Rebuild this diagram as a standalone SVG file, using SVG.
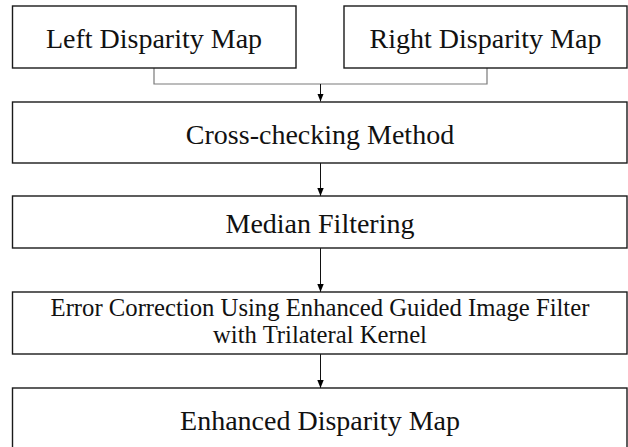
<svg xmlns="http://www.w3.org/2000/svg" width="628" height="447" viewBox="0 0 628 447">
<defs>
<marker id="ah" viewBox="0 0 8 8" refX="8" refY="4" markerWidth="8" markerHeight="8" markerUnits="userSpaceOnUse" orient="auto">
<path d="M0,0.8 L8,4 L0,7.2 Z" fill="#000"/>
</marker>
<style>
.box{fill:#fff;stroke:#1a1a1a;stroke-width:1.4}
.t{font-family:"Liberation Serif","Times New Roman",serif;font-size:28px;fill:#111;text-anchor:middle}
.s{font-size:24.7px}
.gray{fill:none;stroke:#7a7a7a;stroke-width:1.2}
.arr{fill:none;stroke:#111;stroke-width:1;marker-end:url(#ah)}
</style>
</defs>
<rect width="628" height="447" fill="#fff"/>
<g id="connectors">
<polyline class="gray" points="154,68 154,84 487,84 487,68"/>
<line class="arr" x1="320.5" y1="84" x2="320.5" y2="101.5"/>
<line class="arr" x1="320.5" y1="163" x2="320.5" y2="196"/>
<line class="arr" x1="320.5" y1="248" x2="320.5" y2="292"/>
<line class="arr" x1="320.5" y1="354" x2="320.5" y2="388"/>
</g>
<g id="left-disparity-map">
<rect class="box" x="12.5" y="6" width="283.5" height="62"/>
<text class="t" x="154" y="48">Left Disparity Map</text>
</g>
<g id="right-disparity-map">
<rect class="box" x="344" y="6" width="283" height="62"/>
<text class="t" x="485.5" y="48">Right Disparity Map</text>
</g>
<g id="cross-checking">
<rect class="box" x="12.5" y="102" width="614.5" height="61"/>
<text class="t" x="320" y="144">Cross-checking Method</text>
</g>
<g id="median-filtering">
<rect class="box" x="12.5" y="196" width="614.5" height="52"/>
<text class="t" x="320" y="233">Median Filtering</text>
</g>
<g id="error-correction">
<rect class="box" x="12.5" y="292" width="614.5" height="62"/>
<text class="t s" x="320" y="316">Error Correction Using Enhanced Guided Image Filter</text>
<text class="t s" x="320" y="343">with Trilateral Kernel</text>
</g>
<g id="enhanced-disparity-map">
<rect class="box" x="12.5" y="388" width="614.5" height="64"/>
<text class="t" x="320" y="430">Enhanced Disparity Map</text>
</g>
</svg>
